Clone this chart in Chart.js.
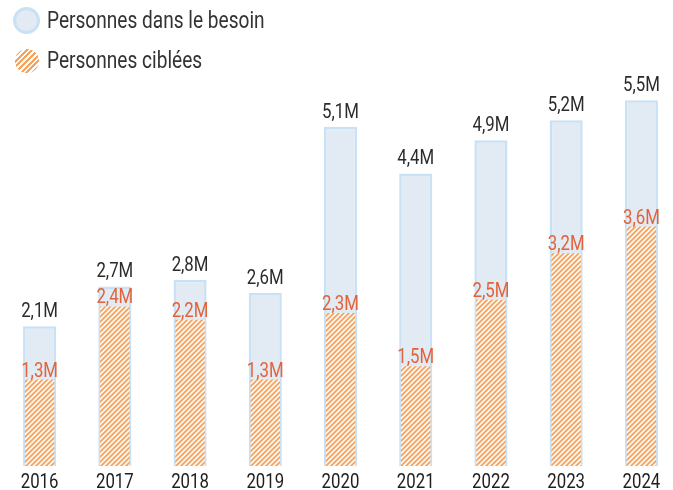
<!DOCTYPE html>
<html>
<head>
<meta charset="utf-8">
<script src="https://cdn.jsdelivr.net/npm/chart.js@4"></script>
<style>
  body { margin: 0; overflow: hidden; background: #fff; font-family: Roboto, sans-serif; }
  #wrap { position: absolute; left: 2px; top: 0; width: 677px; height: 490px; }
  .item { position: absolute; left: 13px; display: flex; align-items: center; font-size: 23px; color: #333; white-space: nowrap; }
  .dot { width: 21px; height: 21px; border-radius: 50%; flex: none; }
  .need { background: #e2eaf3; border: 3px solid #c8e1f5; }
  .target { width: 24px; height: 24px; margin-left: 2px;
    background: repeating-linear-gradient(-45deg, #f5a35e 0 2px, #fff 2px 4px); }
  .txt { display: inline-block; transform: scaleX(0.83); transform-origin: left center; margin-left: 7px; }
</style>
</head>
<body>
<div id="wrap"><canvas id="chart"></canvas></div>
<div class="item" style="top: 7px;"><span class="dot need"></span><span class="txt">Personnes dans le besoin</span></div>
<div class="item" style="top: 47px;"><span class="dot target"></span><span class="txt" style="margin-left: 8px;">Personnes ciblées</span></div>
<script>
var years = ["2016", "2017", "2018", "2019", "2020", "2021", "2022", "2023", "2024"];
var inNeed = [2.1, 2.7, 2.8, 2.6, 5.1, 4.4, 4.9, 5.2, 5.5];
var targeted = [1.3, 2.4, 2.2, 1.3, 2.3, 1.5, 2.5, 3.2, 3.6];

// hatch pattern for the targeted bars
function makeHatch() {
  var c = document.createElement("canvas");
  c.width = 5;
  c.height = 5;
  var g = c.getContext("2d");
  g.fillStyle = "#fdfaf7";
  g.fillRect(0, 0, 5, 5);
  g.strokeStyle = "#f5a35e";
  g.lineWidth = 1.8;
  g.beginPath();
  g.moveTo(-1, 6); g.lineTo(6, -1);
  g.moveTo(-1, 1); g.lineTo(1, -1);
  g.moveTo(4, 6); g.lineTo(6, 4);
  g.stroke();
  return g.createPattern(c, "repeat");
}

function fmt(v) {
  return v.toFixed(1).replace(".", ",") + "M";
}

// condensed looking text: squeeze horizontally
function narrowText(ctx, txt, x, y) {
  ctx.save();
  ctx.translate(x, y);
  ctx.scale(0.8, 1);
  ctx.fillText(txt, 0, 0);
  ctx.restore();
}

// value labels on top of each bar + year labels below
var barLabels = {
  id: "barLabels",
  afterDatasetsDraw: function (chart) {
    var ctx = chart.ctx;
    ctx.save();
    ctx.font = "21px Roboto";
    ctx.textAlign = "center";
    ctx.textBaseline = "alphabetic";
    chart.data.datasets.forEach(function (ds, i) {
      var meta = chart.getDatasetMeta(i);
      meta.data.forEach(function (bar, j) {
        if (ds.label == "Personnes ciblées") {
          ctx.fillStyle = "#e2623a";
          narrowText(ctx, fmt(ds.data[j]), bar.x, bar.y - 3);
        } else {
          ctx.fillStyle = "#2b2b2b";
          narrowText(ctx, fmt(ds.data[j]), bar.x, bar.y - 9);
        }
      });
    });
    var xs = chart.scales.x;
    ctx.fillStyle = "#1e1e1e";
    years.forEach(function (y, j) {
      narrowText(ctx, y, xs.getPixelForValue(j), 488);
    });
    ctx.restore();
  },
};

var ctx = document.getElementById("chart").getContext("2d");
var chart = new Chart(ctx, {
  type: "bar",
  data: {
    labels: years,
    datasets: [
      {
        label: "Personnes ciblées",
        data: targeted,
        backgroundColor: makeHatch(),
        borderWidth: 0,
        grouped: false,
        order: 1,
        barPercentage: 0.39,
        categoryPercentage: 1,
      },
      {
        label: "Personnes dans le besoin",
        data: inNeed,
        backgroundColor: "#e2eaf3",
        borderColor: "#c8e1f5",
        borderWidth: 2.5,
        borderSkipped: false,
        grouped: false,
        order: 2,
        barPercentage: 0.44,
        categoryPercentage: 1,
      },
    ],
  },
  options: {
    responsive: true,
    maintainAspectRatio: false,
    animation: false,
    layout: { padding: { top: 67, left: 0, right: 0, bottom: 24 } },
    plugins: { legend: { display: false }, tooltip: { enabled: false } },
    scales: {
      x: { display: false },
      y: { display: false, min: 0, max: 6 },
    },
  },
  plugins: [barLabels],
});
</script>
</body>
</html>
